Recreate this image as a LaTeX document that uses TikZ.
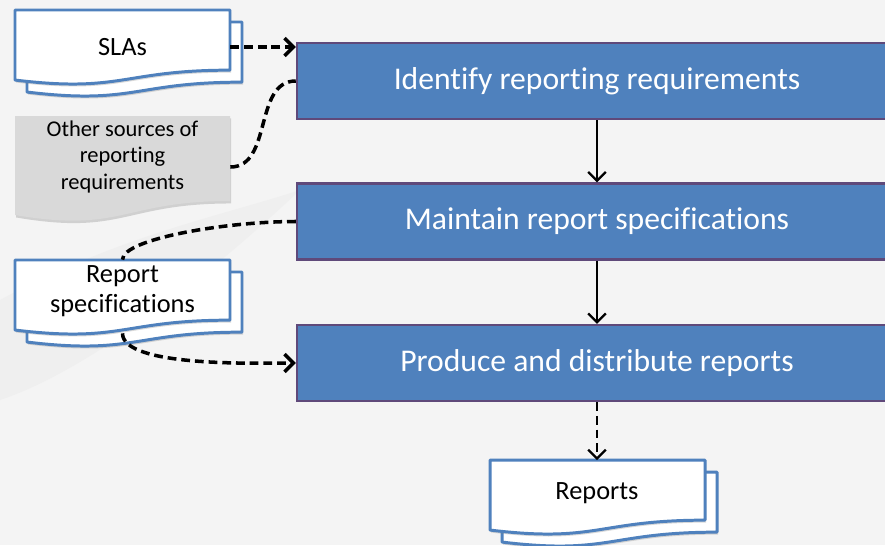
\documentclass[tikz,border=0pt]{standalone}
\usepackage{xcolor}
\usepackage{tikz}
\usepackage{fontspec}
\setmainfont[Ligatures=NoCommon]{Carlito}
\usetikzlibrary{arrows.meta,shadows}

\definecolor{bggray}{HTML}{F4F4F4}
\definecolor{bandgray}{HTML}{EFEFEF}
\definecolor{procblue}{HTML}{4F81BD}
\definecolor{procedge}{HTML}{5F497A}
\definecolor{docblue}{HTML}{4F81BD}
\definecolor{docgray}{HTML}{D9D9D9}

\begin{document}
\begin{tikzpicture}[
    procbox/.style={fill=procblue, draw=procedge, line width=1.4pt, minimum width=12cm,
        minimum height=1.52cm, text=white, font=\fontsize{18}{22}\selectfont},
    doctext/.style={minimum width=4.3cm, minimum height=1.3cm, inner sep=1pt, align=center,
        font=\fontsize{15}{17}\selectfont},
    docpaper/.style={fill=white, draw=docblue, line width=1.7pt, line join=round,
        drop shadow={shadow xshift=0.6pt, shadow yshift=-1.4pt, opacity=0.3}},
    docnote/.style={fill=docgray, draw=none,
        drop shadow={shadow xshift=0.6pt, shadow yshift=-1.4pt, opacity=0.3}},
    pics/sheet/.style args={#1/#2}{code={
        \path[#2] (0,0) -- (4.3,0) -- (4.3,-0.802*#1)
            .. controls (2.15,-0.802*#1) and (2.15,-1.107*#1) .. (0,-0.934*#1) -- cycle;
    }},
    flow/.style={draw=black, line width=1.3pt, -{Straight Barb[length=5pt,width=10pt]}},
    feed/.style={draw=black, line width=2pt, dash pattern=on 5pt off 2.8pt},
    feedarrow/.style={feed, -{Straight Barb[length=5pt,width=10pt]}}
]
    % Canvas
    \useasboundingbox (0,0) rectangle (17.7,10.9);
    \clip (0,0) rectangle (17.7,10.9);
    \fill[bggray] (0,0) rectangle (17.7,10.9);
    \fill[bandgray] (0,2.9) .. controls (1.8,3.5) and (4.2,5.4) .. (6,7.1)
        .. controls (4.5,6.6) and (2.4,6.2) .. (0,4.9) -- cycle;

    % SLAs
    \pic at (0.54,10.46) {sheet=1.5/docpaper};
    \pic at (0.3,10.7) {sheet=1.5/docpaper};
    \node[doctext] (slas) at (2.45,9.96) {SLAs};

    % Other sources
    \pic at (0.3,8.58) {sheet=2.12/docnote};
    \node[doctext, font=\fontsize{12.8}{15.2}\selectfont] (other) at (2.45,7.76)
        {Other sources of\\reporting\\requirements};

    % Report specifications
    \pic at (0.54,5.46) {sheet=1.5/docpaper};
    \pic at (0.3,5.7) {sheet=1.5/docpaper};
    \node[doctext, minimum height=1.24cm] (rspec) at (2.45,5.08) {Report\\specifications};

    % Reports
    \pic at (10.04,1.46) {sheet=1.5/docpaper};
    \pic at (9.8,1.7) {sheet=1.5/docpaper};
    \node[doctext] (reports) at (11.94,1.04) {Reports};

    % Process steps
    \node[procbox] (identify) at (11.94,9.28) {Identify reporting requirements};
    \node[procbox] (maintain) at (11.94,6.47) {Maintain report specifications};
    \node[procbox] (produce) at (11.94,3.64) {Produce and distribute reports};

    % Connections
    \draw[feedarrow] (slas.east) -- (slas.east -| identify.west);
    \draw[feed] ([yshift=-0.2cm]other.east) to[out=0,in=180] (identify.west);
    \draw[flow] (identify) -- (maintain);
    \draw[flow] (maintain) -- (produce);
    \draw[feed] (maintain.west) to[out=180,in=90,out looseness=1,in looseness=0.3] (rspec.north);
    \draw[feedarrow] ([yshift=-0.22cm]rspec.south) to[out=-90,in=180,looseness=0.5] (produce.west);
    \draw[feedarrow, line width=1.3pt] (produce) -- (reports);
\end{tikzpicture}
\end{document}
